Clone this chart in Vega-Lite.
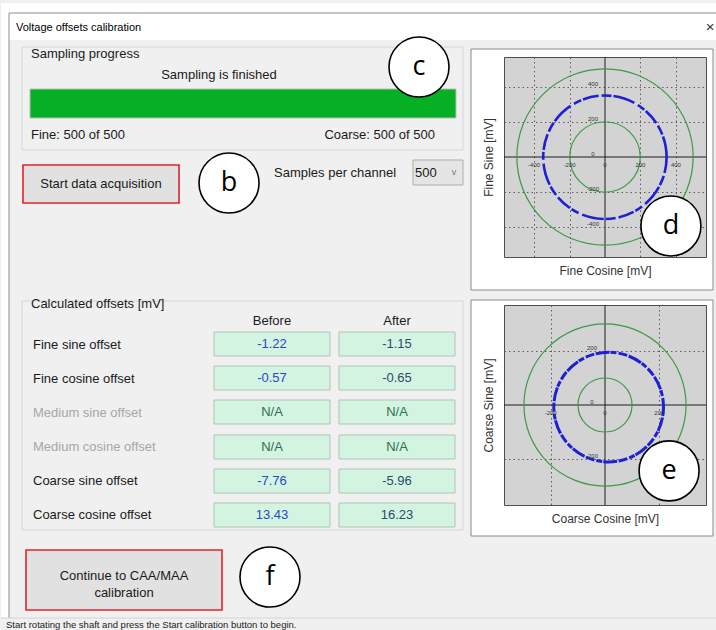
{
  "$schema": "https://vega.github.io/schema/vega-lite/v6.json",
  "padding": 0,
  "background": "#f0f0f0",
  "config": {"view": {"stroke": null}, "font": "Liberation Sans"},
  "spacing": 0,
  "bounds": "flush",
  "resolve": {"scale": {"x": "independent", "y": "independent", "size": "independent"}},
  "datasets": {
    "white": [{"x": 0, "x2": 716, "y": 0, "y2": 37}, {"x": 0, "x2": 8, "y": 37, "y2": 615}],
    "border": [{"x": 8, "x2": 716, "y": 10, "y2": 10}, {"x": 8, "x2": 8, "y": 10, "y2": 615}],
    "statusline": [{"x": 0, "x2": 716, "y": 615, "y2": 615}],
    "groups": [{"x": 21, "x2": 462, "y": 44, "y2": 147}, {"x": 21, "x2": 462, "y": 298, "y2": 527}],
    "progress": [{"x": 29, "x2": 455, "y": 86, "y2": 115}],
    "buttons": [{"x": 22, "x2": 178, "y": 162, "y2": 200}, {"x": 25, "x2": 221, "y": 547, "y2": 607}],
    "combo": [{"x": 412, "x2": 462, "y": 157, "y2": 182}],
    "frames": [{"x": 470, "x2": 712, "y": 46, "y2": 287}, {"x": 470, "x2": 712, "y": 297, "y2": 533}],
    "cells": [
      {"x": 213, "x2": 329, "y": 329, "y2": 353}, {"x": 338, "x2": 454, "y": 329, "y2": 353},
      {"x": 213, "x2": 329, "y": 363, "y2": 387}, {"x": 338, "x2": 454, "y": 363, "y2": 387},
      {"x": 213, "x2": 329, "y": 397, "y2": 421}, {"x": 338, "x2": 454, "y": 397, "y2": 421},
      {"x": 213, "x2": 329, "y": 432, "y2": 456}, {"x": 338, "x2": 454, "y": 432, "y2": 456},
      {"x": 213, "x2": 329, "y": 466, "y2": 490}, {"x": 338, "x2": 454, "y": 466, "y2": 490},
      {"x": 213, "x2": 329, "y": 500, "y2": 524}, {"x": 338, "x2": 454, "y": 500, "y2": 524}
    ],
    "t_title": [{"x": 15, "y": 25, "t": "Voltage offsets calibration"}],
    "t_close": [{"x": 709, "y": 24, "t": "×"}],
    "t_left": [
      {"x": 30, "y": 51, "t": "Sampling progress"},
      {"x": 30, "y": 132, "t": "Fine: 500 of 500"},
      {"x": 30, "y": 301, "t": "Calculated offsets [mV]"},
      {"x": 273, "y": 170, "t": "Samples per channel"},
      {"x": 414, "y": 170, "t": "500"},
      {"x": 32, "y": 342, "t": "Fine sine offset"},
      {"x": 32, "y": 376, "t": "Fine cosine offset"},
      {"x": 32, "y": 478, "t": "Coarse sine offset"},
      {"x": 32, "y": 512, "t": "Coarse cosine offset"}
    ],
    "t_gray": [
      {"x": 32, "y": 410, "t": "Medium sine offset"},
      {"x": 32, "y": 444, "t": "Medium cosine offset"}
    ],
    "t_center": [
      {"x": 218, "y": 72, "t": "Sampling is finished"},
      {"x": 100, "y": 181, "t": "Start data acquisition"},
      {"x": 271, "y": 318, "t": "Before"},
      {"x": 396, "y": 318, "t": "After"},
      {"x": 123, "y": 573, "t": "Continue to CAA/MAA"},
      {"x": 123, "y": 590, "t": "calibration"}
    ],
    "t_right": [{"x": 434, "y": 132, "t": "Coarse: 500 of 500"}],
    "t_chev": [{"x": 453, "y": 169, "t": "v"}],
    "t_status": [{"x": 5, "y": 622, "t": "Start rotating the shaft and press the Start calibration button to begin."}],
    "v_before": [
      {"x": 271, "y": 341, "t": "-1.22"}, {"x": 271, "y": 375, "t": "-0.57"},
      {"x": 271, "y": 478, "t": "-7.76"}, {"x": 271, "y": 512, "t": "13.43"}
    ],
    "v_after": [
      {"x": 396, "y": 341, "t": "-1.15"}, {"x": 396, "y": 375, "t": "-0.65"},
      {"x": 396, "y": 478, "t": "-5.96"}, {"x": 396, "y": 512, "t": "16.23"}
    ],
    "v_na": [
      {"x": 271, "y": 409, "t": "N/A"}, {"x": 396, "y": 409, "t": "N/A"},
      {"x": 271, "y": 444, "t": "N/A"}, {"x": 396, "y": 444, "t": "N/A"}
    ],
    "notes_ui": [{"x": 228, "y": 180, "t": "b"}, {"x": 418, "y": 64, "t": "c"}, {"x": 269, "y": 574, "t": "f"}],
    "fd_lines": [{"x": 0, "x2": 0, "y": -570, "y2": 570}, {"x": -570, "x2": 570, "y": 0, "y2": 0}],
    "fd_ref": [{"x": 0, "y": 0, "r": 200}, {"x": 0, "y": 0, "r": 500}],
    "fd_ring": [{"x": -0.57, "y": -1.22, "r": 350}],
    "fd_xlab": [{"x": -400, "y": 0, "t": "-400"}, {"x": -200, "y": 0, "t": "-200"}, {"x": 0, "y": 0, "t": "0"}, {"x": 200, "y": 0, "t": "200"}, {"x": 400, "y": 0, "t": "400"}],
    "fd_ylab": [{"x": 0, "y": 400, "t": "400"}, {"x": 0, "y": 200, "t": "200"}, {"x": 0, "y": 0, "t": "0"}, {"x": 0, "y": -200, "t": "-200"}, {"x": 0, "y": -400, "t": "-400"}],
    "fd_note": [{"x": 372, "y": -393, "t": "d"}],
    "fe_lines": [{"x": 0, "x2": 0, "y": -372, "y2": 372}, {"x": -372, "x2": 372, "y": 0, "y2": 0}],
    "fe_ref": [{"x": 0, "y": 0, "r": 100}, {"x": 0, "y": 0, "r": 300}],
    "fe_ring": [{"x": 13.43, "y": -7.76, "r": 203}],
    "fe_xlab": [{"x": -200, "y": 0, "t": "-200"}, {"x": 0, "y": 0, "t": "0"}, {"x": 200, "y": 0, "t": "200"}],
    "fe_ylab": [{"x": 0, "y": 200, "t": "200"}, {"x": 0, "y": 0, "t": "0"}, {"x": 0, "y": -200, "t": "-200"}],
    "fe_note": [{"x": 236, "y": -245, "t": "e"}]
  },
  "hconcat": [
    {
      "width": 503,
      "height": 630,
      "encoding": {
        "x": {"field": "x", "type": "quantitative", "scale": {"domain": [0, 503], "nice": false, "zero": false}, "axis": null},
        "y": {"field": "y", "type": "quantitative", "scale": {"domain": [0, 630], "nice": false, "zero": false, "reverse": true}, "axis": null}
      },
      "layer": [
        {"data": {"name": "white"}, "mark": {"type": "rect", "fill": "#ffffff", "strokeWidth": 0}, "encoding": {"x2": {"field": "x2"}, "y2": {"field": "y2"}}},
        {"data": {"name": "border"}, "mark": {"type": "rule", "stroke": "#8c8c8c", "strokeWidth": 1}, "encoding": {"x2": {"field": "x2"}, "y2": {"field": "y2"}}},
        {"data": {"name": "statusline"}, "mark": {"type": "rule", "stroke": "#d4d4d4", "strokeWidth": 1}, "encoding": {"x2": {"field": "x2"}, "y2": {"field": "y2"}}},
        {"data": {"name": "groups"}, "mark": {"type": "rect", "fill": null, "fillOpacity": 0, "stroke": "#d6d6d6", "strokeWidth": 1}, "encoding": {"x2": {"field": "x2"}, "y2": {"field": "y2"}}},
        {"data": {"name": "progress"}, "mark": {"type": "rect", "fill": "#06b025", "stroke": "#bcbcbc", "strokeWidth": 1}, "encoding": {"x2": {"field": "x2"}, "y2": {"field": "y2"}}},
        {"data": {"name": "buttons"}, "mark": {"type": "rect", "fill": "#e1e1e1", "stroke": "#e0242a", "strokeWidth": 1.6}, "encoding": {"x2": {"field": "x2"}, "y2": {"field": "y2"}}},
        {"data": {"name": "combo"}, "mark": {"type": "rect", "fill": "#e5e5e5", "stroke": "#adadad", "strokeWidth": 1}, "encoding": {"x2": {"field": "x2"}, "y2": {"field": "y2"}}},
        {"data": {"name": "frames"}, "mark": {"type": "rect", "fill": "#ffffff", "stroke": "#8a8a8a", "strokeWidth": 1}, "encoding": {"x2": {"field": "x2"}, "y2": {"field": "y2"}}},
        {"data": {"name": "cells"}, "mark": {"type": "rect", "fill": "#d3f4e1", "stroke": "#b0c2b7", "strokeWidth": 1}, "encoding": {"x2": {"field": "x2"}, "y2": {"field": "y2"}}},
        {"data": {"name": "t_title"}, "mark": {"type": "text", "align": "left", "baseline": "middle", "fontSize": 11, "color": "#000000"}, "encoding": {"text": {"field": "t"}}},
        {"data": {"name": "t_close"}, "mark": {"type": "text", "align": "center", "baseline": "middle", "fontSize": 15, "color": "#333333"}, "encoding": {"text": {"field": "t"}}},
        {"data": {"name": "t_left"}, "mark": {"type": "text", "align": "left", "baseline": "middle", "fontSize": 13, "color": "#1a1a1a"}, "encoding": {"text": {"field": "t"}}},
        {"data": {"name": "t_gray"}, "mark": {"type": "text", "align": "left", "baseline": "middle", "fontSize": 13, "color": "#a6a6a6"}, "encoding": {"text": {"field": "t"}}},
        {"data": {"name": "t_center"}, "mark": {"type": "text", "align": "center", "baseline": "middle", "fontSize": 13, "color": "#1a1a1a"}, "encoding": {"text": {"field": "t"}}},
        {"data": {"name": "t_right"}, "mark": {"type": "text", "align": "right", "baseline": "middle", "fontSize": 13, "color": "#1a1a1a"}, "encoding": {"text": {"field": "t"}}},
        {"data": {"name": "t_chev"}, "mark": {"type": "text", "align": "center", "baseline": "middle", "fontSize": 9, "color": "#777777"}, "encoding": {"text": {"field": "t"}}},
        {"data": {"name": "t_status"}, "mark": {"type": "text", "align": "left", "baseline": "middle", "fontSize": 9.5, "color": "#222222"}, "encoding": {"text": {"field": "t"}}},
        {"data": {"name": "v_before"}, "mark": {"type": "text", "align": "center", "baseline": "middle", "fontSize": 13, "color": "#2a48c6"}, "encoding": {"text": {"field": "t"}}},
        {"data": {"name": "v_after"}, "mark": {"type": "text", "align": "center", "baseline": "middle", "fontSize": 13, "color": "#2c4a6c"}, "encoding": {"text": {"field": "t"}}},
        {"data": {"name": "v_na"}, "mark": {"type": "text", "align": "center", "baseline": "middle", "fontSize": 13, "color": "#2f6f4f"}, "encoding": {"text": {"field": "t"}}},
        {"data": {"name": "notes_ui"}, "mark": {"type": "point", "shape": "circle", "filled": true, "fill": "#ffffff", "stroke": "#000000", "strokeWidth": 1.6, "size": 3600, "opacity": 1}},
        {"data": {"name": "notes_ui"}, "mark": {"type": "text", "align": "center", "baseline": "middle", "fontSize": 27, "font": "Open Sans", "color": "#000000"}, "encoding": {"text": {"field": "t"}}}
      ]
    },
    {
      "spacing": 48,
      "bounds": "flush",
      "resolve": {"scale": {"x": "independent", "y": "independent", "size": "independent"}},
      "vconcat": [
        {
          "width": 202,
          "height": 6,
          "data": {"values": [{"t": ""}]},
          "mark": {"type": "text"},
          "encoding": {"text": {"field": "t"}}
        },
        {
          "width": 202,
          "height": 200,
          "view": {"fill": "#d3d3d3", "stroke": "#4d4d4d", "strokeWidth": 1},
          "encoding": {
            "x": {"field": "x", "type": "quantitative", "scale": {"domain": [-570, 570], "nice": false, "zero": false},
              "axis": {"title": "Fine Cosine [mV]", "labels": false, "ticks": false, "domain": false, "grid": true, "values": [-400, -200, 200, 400], "gridColor": "#5c5c5c", "gridDash": [1.5, 3], "gridWidth": 1, "titleFont": "Liberation Sans", "titleFontSize": 12, "titleFontWeight": "normal", "titleColor": "#333333", "titlePadding": 8}},
            "y": {"field": "y", "type": "quantitative", "scale": {"domain": [-570, 570], "nice": false, "zero": false},
              "axis": {"title": "Fine Sine [mV]", "labels": false, "ticks": false, "domain": false, "grid": true, "values": [-400, -200, 200, 400], "gridColor": "#5c5c5c", "gridDash": [1.5, 3], "gridWidth": 1, "titleFont": "Liberation Sans", "titleFontSize": 12, "titleFontWeight": "normal", "titleColor": "#333333", "titlePadding": 9}}
          },
          "layer": [
            {"data": {"name": "fd_lines"}, "mark": {"type": "rule", "stroke": "#1e1e1e", "strokeWidth": 1}, "encoding": {"x2": {"field": "x2"}, "y2": {"field": "y2"}}},
            {"data": {"name": "fd_ref"}, "mark": {"type": "point", "shape": "circle", "filled": false, "stroke": "#3c9a46", "strokeWidth": 1.2, "opacity": 1},
              "encoding": {"size": {"field": "r", "type": "quantitative", "scale": {"type": "pow", "exponent": 2, "domain": [0, 500], "range": [0, 31080]}, "legend": null}}},
            {"data": {"name": "fd_ring"}, "mark": {"type": "point", "shape": "circle", "filled": false, "stroke": "#1f1fd6", "strokeWidth": 2.6, "strokeDash": [16, 3, 10, 2, 22, 4, 8, 2], "opacity": 1},
              "encoding": {"size": {"field": "r", "type": "quantitative", "scale": {"type": "pow", "exponent": 2, "domain": [0, 500], "range": [0, 31080]}, "legend": null}}},
            {"data": {"name": "fd_xlab"}, "mark": {"type": "text", "align": "center", "baseline": "middle", "dy": 8, "fontSize": 6, "color": "#333333"}, "encoding": {"text": {"field": "t"}}},
            {"data": {"name": "fd_ylab"}, "mark": {"type": "text", "align": "center", "baseline": "middle", "dx": -12, "dy": -3, "fontSize": 6, "color": "#333333"}, "encoding": {"text": {"field": "t"}}},
            {"data": {"name": "fd_note"}, "mark": {"type": "point", "shape": "circle", "filled": true, "fill": "#ffffff", "stroke": "#000000", "strokeWidth": 1.6, "size": 3600, "opacity": 1}},
            {"data": {"name": "fd_note"}, "mark": {"type": "text", "align": "center", "baseline": "middle", "fontSize": 27, "font": "Open Sans", "color": "#000000"}, "encoding": {"text": {"field": "t"}}}
          ]
        },
        {
          "width": 202,
          "height": 200,
          "view": {"fill": "#d3d3d3", "stroke": "#4d4d4d", "strokeWidth": 1},
          "encoding": {
            "x": {"field": "x", "type": "quantitative", "scale": {"domain": [-372, 372], "nice": false, "zero": false},
              "axis": {"title": "Coarse Cosine [mV]", "labels": false, "ticks": false, "domain": false, "grid": true, "values": [-200, 200], "gridColor": "#5c5c5c", "gridDash": [1.5, 3], "gridWidth": 1, "titleFont": "Liberation Sans", "titleFontSize": 12, "titleFontWeight": "normal", "titleColor": "#333333", "titlePadding": 8}},
            "y": {"field": "y", "type": "quantitative", "scale": {"domain": [-372, 372], "nice": false, "zero": false},
              "axis": {"title": "Coarse Sine [mV]", "labels": false, "ticks": false, "domain": false, "grid": true, "values": [-200, 200], "gridColor": "#5c5c5c", "gridDash": [1.5, 3], "gridWidth": 1, "titleFont": "Liberation Sans", "titleFontSize": 12, "titleFontWeight": "normal", "titleColor": "#333333", "titlePadding": 9}}
          },
          "layer": [
            {"data": {"name": "fe_lines"}, "mark": {"type": "rule", "stroke": "#1e1e1e", "strokeWidth": 1}, "encoding": {"x2": {"field": "x2"}, "y2": {"field": "y2"}}},
            {"data": {"name": "fe_ref"}, "mark": {"type": "point", "shape": "circle", "filled": false, "stroke": "#3c9a46", "strokeWidth": 1.2, "opacity": 1},
              "encoding": {"size": {"field": "r", "type": "quantitative", "scale": {"type": "pow", "exponent": 2, "domain": [0, 300], "range": [0, 26277]}, "legend": null}}},
            {"data": {"name": "fe_ring"}, "mark": {"type": "point", "shape": "circle", "filled": false, "stroke": "#1f1fd6", "strokeWidth": 3, "strokeDash": [9, 1.5, 14, 1, 6, 2], "opacity": 1},
              "encoding": {"size": {"field": "r", "type": "quantitative", "scale": {"type": "pow", "exponent": 2, "domain": [0, 300], "range": [0, 26277]}, "legend": null}}},
            {"data": {"name": "fe_xlab"}, "mark": {"type": "text", "align": "center", "baseline": "middle", "dy": 8, "fontSize": 6, "color": "#333333"}, "encoding": {"text": {"field": "t"}}},
            {"data": {"name": "fe_ylab"}, "mark": {"type": "text", "align": "center", "baseline": "middle", "dx": -13, "dy": -3, "fontSize": 6, "color": "#333333"}, "encoding": {"text": {"field": "t"}}},
            {"data": {"name": "fe_note"}, "mark": {"type": "point", "shape": "circle", "filled": true, "fill": "#ffffff", "stroke": "#000000", "strokeWidth": 1.6, "size": 3600, "opacity": 1}},
            {"data": {"name": "fe_note"}, "mark": {"type": "text", "align": "center", "baseline": "middle", "fontSize": 27, "font": "Open Sans", "color": "#000000"}, "encoding": {"text": {"field": "t"}}}
          ]
        }
      ]
    }
  ]
}
